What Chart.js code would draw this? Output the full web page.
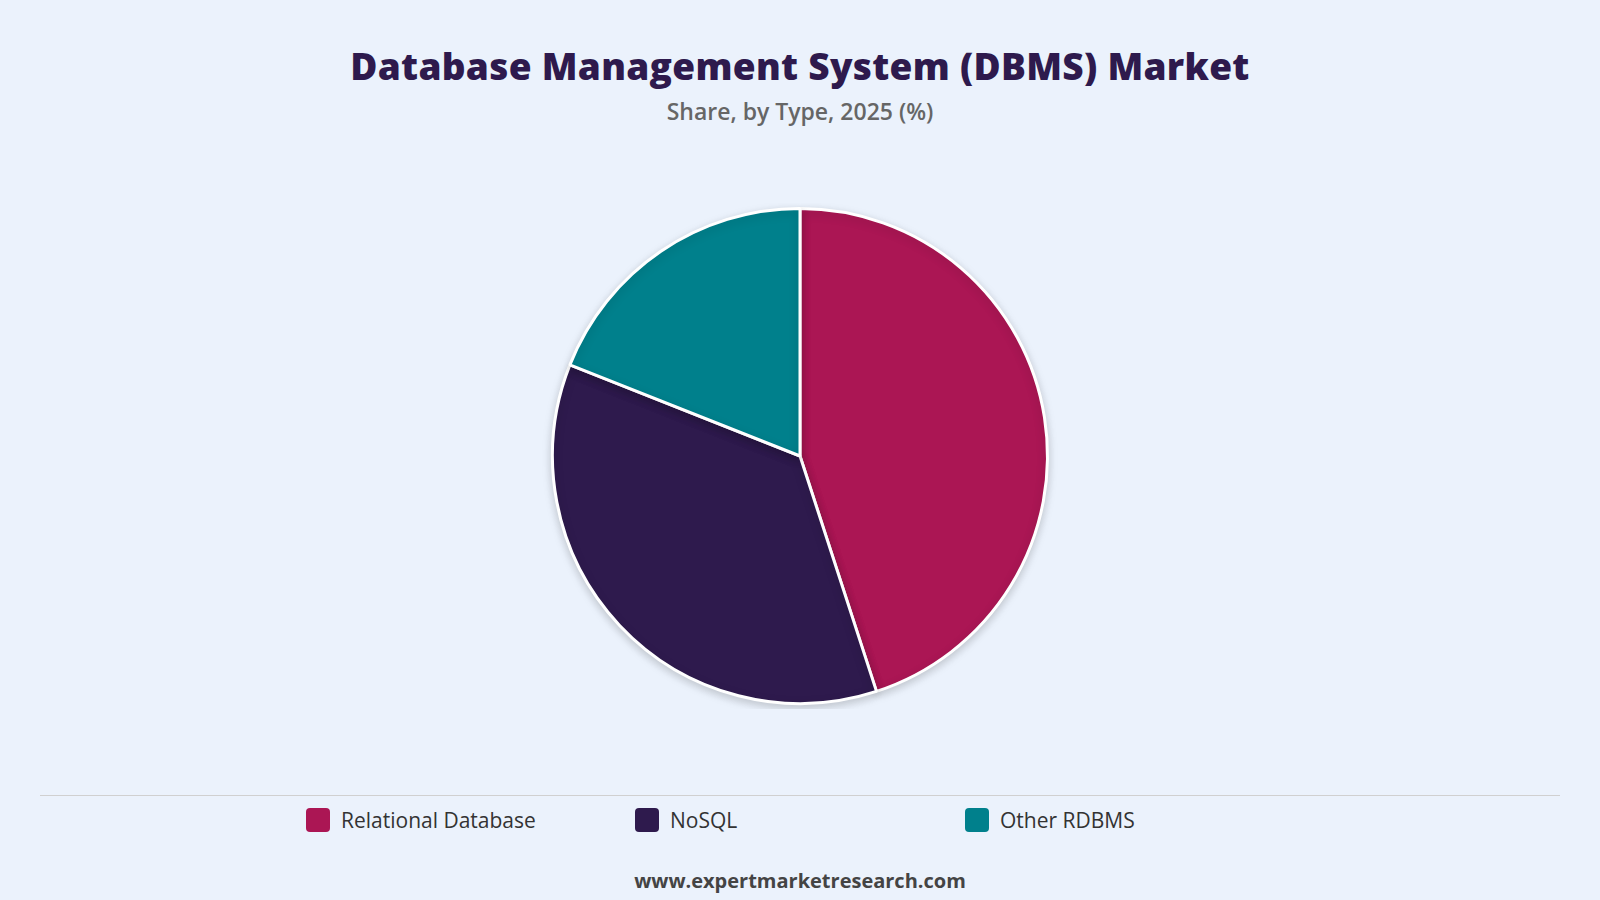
<!DOCTYPE html>
<html><head><meta charset="utf-8">
<script src="https://cdn.jsdelivr.net/npm/chart.js@4"></script>
<style>
body{margin:0;width:1600px;height:900px;background:#ebf2fc;font-family:"Open Sans",sans-serif;position:relative;overflow:hidden}
#t{position:absolute;top:40px;width:1600px;text-align:center;font:800 37px "Open Sans",sans-serif;color:#2e1a4d;letter-spacing:0.3px}
#s{position:absolute;top:95px;width:1600px;text-align:center;font:600 23px "Open Sans",sans-serif;color:#666}
#c{position:absolute;left:0;top:203px;width:1600px;height:506px}
#line{position:absolute;left:40px;width:1520px;top:795px;border-top:1px solid #d0d0d0}
#leg{position:absolute;top:806px;left:0;width:1600px}
.it{position:absolute;display:flex;align-items:center;font-size:21px;color:#333}
.sw{width:24px;height:24px;border-radius:4px;margin-right:11px}
#f{position:absolute;top:867px;width:1600px;text-align:center;font:700 20px "Open Sans",sans-serif;color:#444}
</style></head><body>
<div id="t">Database Management System (DBMS) Market</div>
<div id="s">Share, by Type, 2025 (%)</div>
<div id="c"><canvas id="cv"></canvas></div>
<div id="line"></div>
<div id="leg"></div>
<div id="f">www.expertmarketresearch.com</div>
<script>
const categories=["Relational Database","NoSQL","Other RDBMS"];
const shares=[45,36,19];
const colors=["#ab1654","#2e1a4d","#00808c"];
const legX=[306,635,965];
const leg=document.getElementById('leg');
categories.forEach((c,i)=>{const d=document.createElement('div');d.className='it';d.style.left=legX[i]+'px';d.innerHTML='<span class="sw" style="background:'+colors[i]+'"></span>'+c;leg.appendChild(d);});
const shadow={id:'sh',beforeDatasetsDraw(ch){const x=ch.ctx;x.save();x.shadowColor='rgba(0,0,0,0.18)';x.shadowBlur=10;x.shadowOffsetY=3;},afterDatasetsDraw(ch){ch.ctx.restore();}};
new Chart(document.getElementById('cv'),{type:'pie',data:{labels:categories,datasets:[{data:shares,backgroundColor:colors,borderColor:'#fff',borderWidth:3}]},
options:{responsive:true,maintainAspectRatio:false,animation:false,layout:{padding:4},plugins:{legend:{display:false},tooltip:{enabled:false}}},plugins:[shadow]});
</script></body></html>
